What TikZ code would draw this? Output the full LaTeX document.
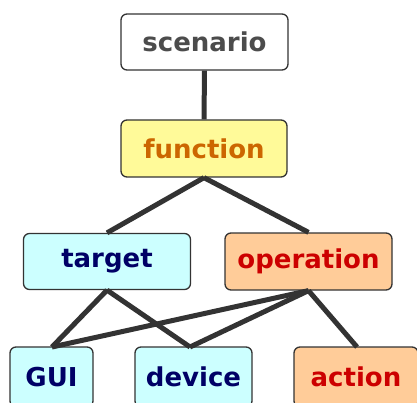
\documentclass[tikz,border=0pt]{standalone}
\usepackage{fontspec}
\setmainfont{DejaVu Sans}
\begin{document}
\begin{tikzpicture}[x=1pt,y=-1pt,
  box/.style={draw=black!80, line width=1.3pt, rounded corners=6pt, inner sep=0pt,
    font=\fontsize{26}{29}\selectfont\bfseries},
  link/.style={draw=black!80, line width=5pt}]
\useasboundingbox (0,0) rectangle (417,403);
\node[box, fill=white, text=black!70, minimum width=167, minimum height=56] (scen) at (204.5,42) {scenario};
\node[box, fill=yellow!40, text={rgb,255:red,204;green,102;blue,0}, minimum width=166, minimum height=57] (func) at (204,148.5) {function};
\node[box, fill={rgb,255:red,204;green,255;blue,255}, text={rgb,255:red,0;green,0;blue,102}, minimum width=167, minimum height=56] (targ) at (107,261.5) {target};
\node[box, fill={rgb,255:red,255;green,204;blue,153}, text={rgb,255:red,204;green,0;blue,0}, minimum width=167, minimum height=57] (oper) at (308.5,261.5) {operation};
\node[box, fill={rgb,255:red,204;green,255;blue,255}, text={rgb,255:red,0;green,0;blue,102}, minimum width=83, minimum height=60] (gui) at (51.5,377) {GUI};
\node[box, fill={rgb,255:red,204;green,255;blue,255}, text={rgb,255:red,0;green,0;blue,102}, minimum width=117, minimum height=60] (dev) at (193.5,377) {device};
\node[box, fill={rgb,255:red,255;green,204;blue,153}, text={rgb,255:red,204;green,0;blue,0}, minimum width=124, minimum height=60] (act) at (356,377) {action};
\coordinate (guiT) at (52,347);
\coordinate (devT) at (190,347);
\coordinate (actT) at (357,347);
\draw[link] (scen.south) -- (func.north);
\draw[link] (func.south) -- (targ.north);
\draw[link] (func.south) -- (oper.north);
\draw[link] (targ.south) -- (guiT);
\draw[link] (targ.south) -- (devT);
\draw[link] (oper.south) -- (guiT);
\draw[link] (oper.south) -- (devT);
\draw[link] (oper.south) -- (actT);
\end{tikzpicture}
\end{document}
